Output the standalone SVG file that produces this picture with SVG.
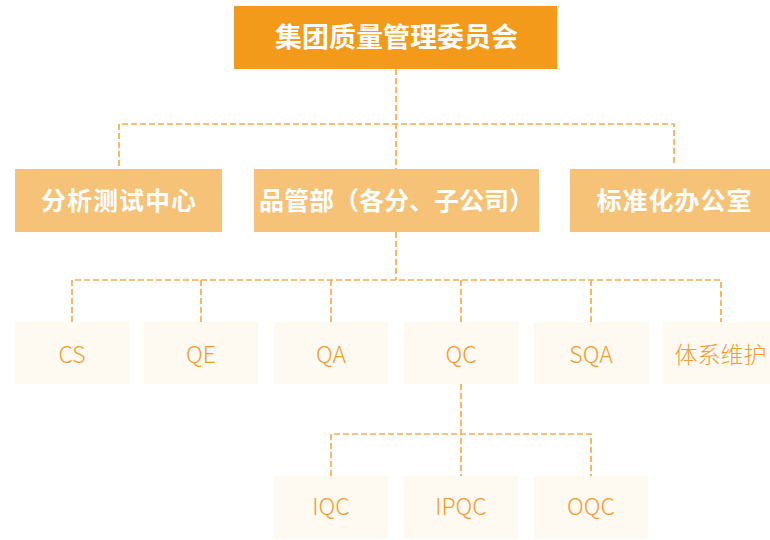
<svg xmlns="http://www.w3.org/2000/svg" width="770" height="540" viewBox="0 0 770 540">
<style>
.top{fill:#F39A1B}
.mid{fill:#F6C277}
.low{fill:#FEF9F1}
.tt{font-family:"Noto Sans CJK SC","Noto Sans",sans-serif;font-weight:bold;fill:#FFFFFF;text-anchor:middle}
.lt{font-family:"Noto Sans CJK SC","Noto Sans",sans-serif;font-weight:300;fill:#F29C30;text-anchor:middle;font-size:23px}
.ln{fill:none;stroke:#F5AD4E;stroke-width:1.7;stroke-dasharray:6 3}
</style>
<rect width="770" height="540" fill="#FFFFFF"/>
<g id="connectors">
<path class="ln" d="M396 69V169M119 166V124H674V166"/>
<path class="ln" d="M396 232V280M72 322V280H721V322M201 280V322M331 280V322M461 280V322M591 280V322"/>
<path class="ln" d="M461 384V476M331 476V434H591V476"/>
</g>
<g id="n-committee"><rect class="top" x="234" y="6" width="323" height="63"/><text class="tt" x="396.5" y="47" font-size="27">集团质量管理委员会</text></g>
<g id="n-lab"><rect class="mid" x="15" y="169" width="207" height="63"/><text class="tt" x="119" y="209.5" font-size="25" letter-spacing="1">分析测试中心</text></g>
<g id="n-qm"><rect class="mid" x="254" y="169" width="285" height="63"/><text class="tt" x="396.5" y="209.5" font-size="25">品管部（各分、子公司）</text></g>
<g id="n-std"><rect class="mid" x="570" y="169" width="208" height="63"/><text class="tt" x="674.5" y="209.5" font-size="25" letter-spacing="1">标准化办公室</text></g>
<g id="n-cs"><rect class="low" x="15" y="322" width="114" height="62"/><text class="lt" x="72" y="362.5">CS</text></g>
<g id="n-qe"><rect class="low" x="144" y="322" width="114" height="62"/><text class="lt" x="201" y="362.5">QE</text></g>
<g id="n-qa"><rect class="low" x="274" y="322" width="114" height="62"/><text class="lt" x="331" y="362.5">QA</text></g>
<g id="n-qc"><rect class="low" x="404" y="322" width="115" height="62"/><text class="lt" x="461" y="362.5">QC</text></g>
<g id="n-sqa"><rect class="low" x="534" y="322" width="115" height="62"/><text class="lt" x="591" y="362.5">SQA</text></g>
<g id="n-sys"><rect class="low" x="663" y="322" width="115" height="62"/><text class="lt" x="720.5" y="362.5">体系维护</text></g>
<g id="n-iqc"><rect class="low" x="274" y="476" width="114" height="63"/><text class="lt" x="331" y="515">IQC</text></g>
<g id="n-ipqc"><rect class="low" x="404" y="476" width="114" height="63"/><text class="lt" x="461" y="515">IPQC</text></g>
<g id="n-oqc"><rect class="low" x="534" y="476" width="114" height="63"/><text class="lt" x="591" y="515">OQC</text></g>
</svg>
